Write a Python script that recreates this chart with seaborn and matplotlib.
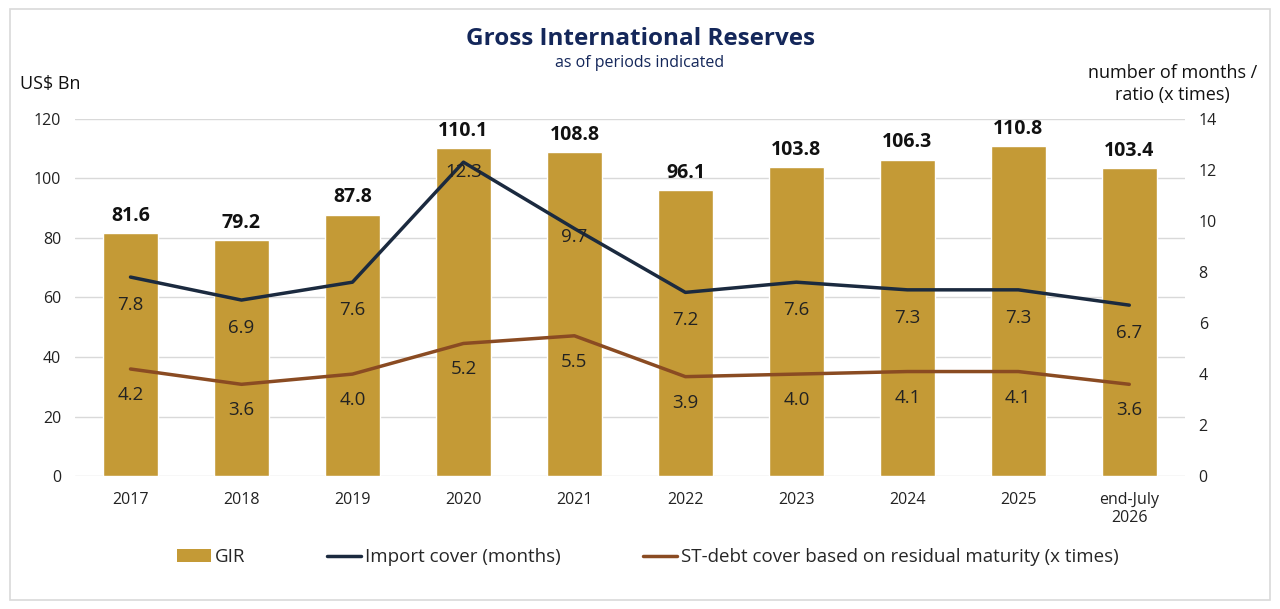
import numpy as np
import pandas as pd
import matplotlib
matplotlib.use("Agg")
import matplotlib.pyplot as plt
import seaborn as sns
from matplotlib.patches import Rectangle, Patch
from matplotlib.lines import Line2D

# datos del grafico
periodos = ["2017", "2018", "2019", "2020", "2021", "2022", "2023", "2024", "2025", "end-July\n2026"]
gir = [81.6, 79.2, 87.8, 110.1, 108.8, 96.1, 103.8, 106.3, 110.8, 103.4]
import_cover = [7.8, 6.9, 7.6, 12.3, 9.7, 7.2, 7.6, 7.3, 7.3, 6.7]
stdebt_cover = [4.2, 3.6, 4.0, 5.2, 5.5, 3.9, 4.0, 4.1, 4.1, 3.6]

ORO = "#C49A36"
AZUL = "#1B2A3F"
MARRON = "#8A4B22"
TITULO = "#14275A"

sns.set_theme(style="white")
plt.rcParams['font.family'] = ['Open Sans', 'DejaVu Sans']

df = pd.DataFrame({"periodo": periodos, "gir": gir,
                   "imp": import_cover, "std": stdebt_cover})

fig = plt.figure(figsize=(12.8, 6.09), dpi=100)
ax = fig.add_axes([0.0586, 0.218, 0.867, 0.587])

# barras GIR
sns.barplot(data=df, x="periodo", y="gir", color=ORO, width=0.5,
            saturation=1, ax=ax, zorder=2)
ax.set_ylim(0, 120)
ax.set_yticks(range(0, 121, 20))
ax.set_xlim(-0.5, 9.5)
ax.grid(axis='y', color="#D9D9D9", linewidth=1, zorder=0)
ax.set_axisbelow(True)
for s in ax.spines.values():
    s.set_visible(False)
ax.set_xlabel("")
ax.set_ylabel("")
ax.tick_params(axis='both', length=0, labelsize=11.5, colors="#222222")
ax.tick_params(axis='x', pad=11)
ax.tick_params(axis='y', pad=10)
for b, v in zip(ax.patches, gir):
    ax.text(b.get_x() + b.get_width() / 2, v + 2.5, f"{v:.1f}", ha="center",
            va="bottom", fontsize=14, fontweight="bold", color="#111111")

# eje derecho con las lineas
ax2 = ax.twinx()
x = np.arange(len(periodos))
sns.lineplot(x=x, y=import_cover, color=AZUL, linewidth=2.5, ax=ax2, zorder=3)
sns.lineplot(x=x, y=stdebt_cover, color=MARRON, linewidth=2.5, ax=ax2, zorder=3)
ax2.set_ylim(0, 14)
ax2.set_yticks(range(0, 15, 2))
ax2.set_xlim(-0.5, 9.5)
for s in ax2.spines.values():
    s.set_visible(False)
ax2.tick_params(axis='y', length=0, labelsize=11.5, colors="#222222", pad=10)
ax2.grid(False)

desp_imp = [-28, -28, -28, -10, -8, -28, -28, -28, -28, -28]
for xi, v, d in zip(x, import_cover, desp_imp):
    ax2.annotate(f"{v:.1f}", (xi, v), xytext=(0, d), textcoords="offset pixels",
                 ha="center", va="center", fontsize=13.5, color="#222222", zorder=4)
for xi, v in zip(x, stdebt_cover):
    ax2.annotate(f"{v:.1f}", (xi, v), xytext=(0, -26), textcoords="offset pixels",
                 ha="center", va="center", fontsize=13.5, color="#222222", zorder=4)

# titulos y etiquetas de ejes
fig.text(0.5, 0.936, "Gross International Reserves", ha="center", va="center",
         fontsize=17.5, fontweight="bold", color=TITULO)
fig.text(0.5, 0.897, "as of periods indicated", ha="center", va="center",
         fontsize=11.5, color=TITULO)
fig.text(0.016, 0.862, "US$ Bn", ha="left", va="center", fontsize=13, color="#111111")
fig.text(0.916, 0.862, "number of months /\nratio (x times)", ha="center", va="center",
         fontsize=13, color="#111111", linespacing=1.25)

# leyenda
handles = [Patch(facecolor=ORO, edgecolor="none", label="GIR"),
           Line2D([0], [0], color=AZUL, linewidth=2.5, label="Import cover (months)"),
           Line2D([0], [0], color=MARRON, linewidth=2.5,
                  label="ST-debt cover based on residual maturity (x times)")]
fig.legend(handles=handles, loc="center", bbox_to_anchor=(0.506, 0.085), ncol=3,
           frameon=False, fontsize=13.5, handlelength=1.8, handletextpad=0.2,
           columnspacing=4.4)

# marco exterior
fig.patches.append(Rectangle((0.008, 0.015), 0.984, 0.97, transform=fig.transFigure,
                             fill=False, edgecolor="#D9D9D9", linewidth=1.2))

fig.savefig("out.png", dpi=100)
